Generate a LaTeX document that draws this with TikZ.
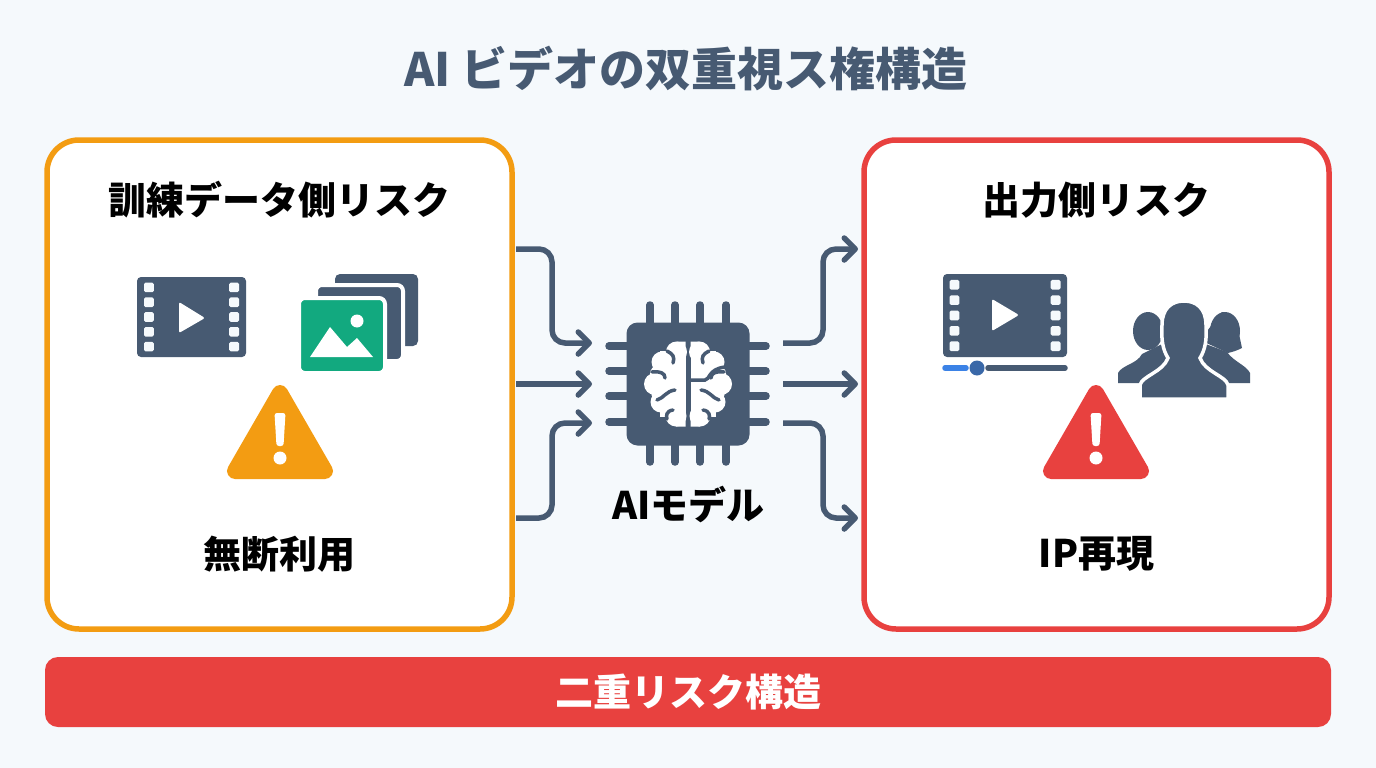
\documentclass[tikz,border=0pt]{standalone}
\usepackage{fontspec}
\setmainfont{Noto Sans CJK JP}
\usetikzlibrary{arrows.meta}
\definecolor{pagebg}{HTML}{F5F9FC}
\definecolor{slate}{HTML}{475A72}
\definecolor{amber}{HTML}{F39C12}
\definecolor{alert}{HTML}{E8413F}
\definecolor{leaf}{HTML}{12A97F}
\definecolor{seek}{HTML}{3B82E6}
\definecolor{knob}{HTML}{3A68A8}
\tikzset{
	panel/.style={draw=#1, line width=5.5pt, fill=white, rounded corners=32pt, minimum width=465pt, minimum height=489pt, inner sep=0pt},
	heading/.style={font=\fontsize{38}{44}\bfseries\selectfont, text=black, inner sep=0pt},
	flow/.style={draw=slate, line width=5.5pt, rounded corners=13pt, -{Straight Barb[length=11pt,width=22pt,round]}},
	pin/.style={draw=slate, line width=7.5pt, line cap=round}
}
% film strip: centre x, centre y, half width, half height, hole inset
\newcommand{\filmstrip}[5]{
	\fill[slate, rounded corners=4pt] (#1-#3,#2-#4) rectangle (#1+#3,#2+#4);
	\foreach \k in {-2,-1,0,1,2} {
		\fill[pagebg, rounded corners=1.5pt] (#1-#3+#5,#2+\k*#4*0.37-4.8) rectangle ++(9.8,9.6);
		\fill[pagebg, rounded corners=1.5pt] (#1+#3-#5-9.8,#2+\k*#4*0.37-4.8) rectangle ++(9.8,9.6);
	}
}
% warning sign: apex x, colour
\newcommand{\warnsign}[2]{
	\filldraw[#2, line width=16pt, line join=round] (#1,393) -- (#1+45,471) -- (#1-45,471) -- cycle;
	\fill[white, rounded corners=2.5pt] (#1-5.5,413) -- (#1+5.5,413) -- (#1+3.5,446) -- (#1-3.5,446) -- cycle;
	\fill[white] (#1,458) circle (6.5);
}
\begin{document}
\begin{tikzpicture}[x=1pt, y=-1pt]
	\fill[pagebg] (0,0) rectangle (1376,768);
	\useasboundingbox (0,0) rectangle (1376,768);

	\node[font=\fontsize{46}{52}\bfseries\selectfont, text=slate, inner sep=0pt] (title) at (686,69) {AI ビデオの双重視ス権構造};

	\node[panel=amber] (trainbox) at (279.5,384.5) {};
	\node[panel=alert] (outbox) at (1096.5,384.5) {};
	\node[fill=alert, rounded corners=13pt, minimum width=1286pt, minimum height=70pt, inner sep=0pt] (banner) at (688,692) {};
	\node[heading, text=white] (bannertext) at (688,692) {二重リスク構造};

	\node[heading] (trainhead) at (279.5,200) {訓練データ側リスク};
	\node[heading] (trainfoot) at (279.5,554) {無断利用};
	\node[heading] (outhead) at (1096.5,200) {出力側リスク};
	\node[heading] (outfoot) at (1096.5,554) {IP再現};
	\node[heading] (chiplabel) at (688.5,505) {AIモデル};

	% chip pins
	\foreach \x in {650,675,700,726} \draw[pin] (\x,305) -- (\x,462);
	\foreach \y in {346,371,396,422} \draw[pin] (609,\y) -- (766,\y);
	\node[fill=slate, rounded corners=11pt, minimum size=123pt, inner sep=0pt] (chip) at (688,384) {};

	% brain
	\begin{scope}[shift={(688,384)}]
		\foreach \s in {-1,1} {
			\begin{scope}[xscale=\s]
				\fill[white] (2.5,-33) rectangle (28,33);
				\fill[white] (11.5,-32) circle (10.5) (26,-22) circle (10.5) (29,-10) circle (9) (33,0) circle (11)
					(27,18) circle (10.5) (28,8) circle (9) (12,32) circle (10.5);
				\fill[white] (2.5,-42.5) rectangle (11.5,-30) (2.5,30) rectangle (12,42.5);
				\draw[slate, line width=3.5pt, line cap=round] (21,-33) .. controls (15,-30) and (13,-27) .. (15,-21);
				\draw[slate, line width=3.5pt, line cap=round] (36,-12) .. controls (28,-13) and (23,-11) .. (23,-6);
				\draw[slate, line width=3.5pt, line cap=round] (13,6) .. controls (22,7) and (24,14) .. (31,16);
				\draw[slate, line width=3.5pt, line cap=round] (15,26) .. controls (22,27) and (22,32) .. (21,35);
			\end{scope}
		}
		\draw[slate, line width=3.5pt, line cap=round] (3,-4) -- (17,-4) .. controls (22,-4) and (20,-15) .. (37,-17);
	\end{scope}

	% connectors
	\coordinate (traina) at (516,249);
	\coordinate (trainb) at (516,384);
	\coordinate (trainc) at (516,518);
	\coordinate (inta) at (592,343);
	\coordinate (intb) at (592,384);
	\coordinate (intc) at (592,423);
	\coordinate (outa) at (783,343);
	\coordinate (outb) at (783,384);
	\coordinate (outc) at (783,423);
	\coordinate (tipa) at (858,249);
	\coordinate (tipb) at (858,384);
	\coordinate (tipc) at (858,518);
	\draw[flow] (traina) -- ++(36,0) |- (inta);
	\draw[flow] (trainb) -- (intb);
	\draw[flow] (trainc) -- ++(36,0) |- (intc);
	\draw[flow] (outa) -- ++(40,0) |- (tipa);
	\draw[flow] (outb) -- (tipb);
	\draw[flow] (outc) -- ++(40,0) |- (tipc);

	% left icons
	\filmstrip{191.5}{317}{54.5}{40}{7}
	\fill[white, rounded corners=2pt] (179,302) -- (205,318) -- (179,333) -- cycle;
	\fill[slate, rounded corners=5pt] (335,274) rectangle (418,346);
	\filldraw[fill=slate, draw=white, line width=4pt, rounded corners=6pt] (316,285) rectangle (403,361);
	\filldraw[fill=leaf, draw=white, line width=4pt, rounded corners=6pt] (299,298) rectangle (385,373);
	\fill[white] (357,321) circle (6.5);
	\fill[white] (310,357) -- (330,327) -- (347,347) -- (357,338) -- (373,357) -- cycle;
	\warnsign{280}{amber}

	% right icons
	\filmstrip{1005}{315.5}{62}{41.5}{6.5}
	\fill[white, rounded corners=2pt] (992,299) -- (1019,315) -- (992,331) -- cycle;
	\draw[seek, line width=5.5pt, line cap=round] (945,368) -- (966,368);
	\draw[slate, line width=5.5pt, line cap=round] (988,368) -- (1065,368);
	\fill[knob] (977,368) circle (7.5);

	% people
	\fill[slate] (1148,331) ellipse (15 and 19);
	\fill[slate] (1118,383) -- (1118,373) .. controls (1122,365) and (1137,364) .. (1142,354) -- (1170,340) -- (1170,383) -- cycle;
	\fill[slate] (1225,331) ellipse (15 and 19);
	\fill[slate] (1222,312) .. controls (1236,312) and (1238,330) .. (1242,348) .. controls (1236,351) and (1232,352) .. (1228,353) -- (1200,340) -- cycle;
	\fill[slate] (1250,383) -- (1250,373) .. controls (1246,365) and (1234,362) .. (1227,352) -- (1195,340) -- (1195,383) -- cycle;
	\filldraw[fill=slate, draw=white, line width=3.5pt] (1140,399) -- (1140,385) .. controls (1142,376) and (1163,372) .. (1168,358)
		.. controls (1163,350) and (1161,340) .. (1162,325) .. controls (1162,308) and (1172,301) .. (1184,301)
		.. controls (1196,301) and (1206,308) .. (1206,325) .. controls (1207,340) and (1205,350) .. (1200,358)
		.. controls (1205,372) and (1226,376) .. (1228,385) -- (1228,399) -- cycle;
	\warnsign{1096}{alert}
\end{tikzpicture}
\end{document}
